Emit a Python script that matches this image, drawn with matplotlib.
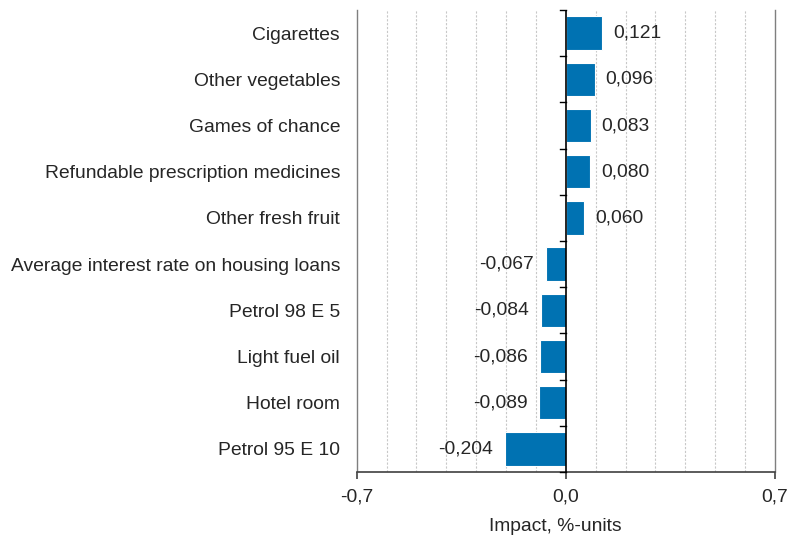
import matplotlib

matplotlib.use("Agg")
import matplotlib.pyplot as plt
import numpy as np

categories = [
    "Cigarettes",
    "Other vegetables",
    "Games of chance",
    "Refundable prescription medicines",
    "Other fresh fruit",
    "Average interest rate on housing loans",
    "Petrol 98 E 5",
    "Light fuel oil",
    "Hotel room",
    "Petrol 95 E 10",
]
impact = [0.121, 0.096, 0.083, 0.080, 0.060, -0.067, -0.084, -0.086, -0.089, -0.204]
xtick_values = [-0.7, 0.0, 0.7]
xtick_labels = ["-0,7", "0,0", "0,7"]

plt.rcParams["font.family"] = ["Liberation Sans", "DejaVu Sans"]
text_color = "#262626"
fs = 13.9

fig = plt.figure(figsize=(7.88, 5.39), dpi=100)
ax = fig.add_axes([0.4527, 0.1243, 0.5308, 0.8571])

y = np.arange(len(categories))
ax.barh(y, impact, height=0.72, color="#0072B2", edgecolor="white", linewidth=0.8, zorder=3)

ax.set_xlim(-0.7, 0.7)
ax.set_ylim(len(categories) - 0.5, -0.5)

# light dashed grid every 0.1
for gx in np.arange(-0.6, 0.61, 0.1):
    if abs(gx) < 1e-9:
        continue
    ax.axvline(gx, color="#c8c8c8", lw=0.8, ls=(0, (2, 1.5)), zorder=1)

# zero line with category ticks
ax.axvline(0, color="black", lw=1.2, zorder=4)
for b in np.arange(-0.5, len(categories), 1.0):
    ax.plot([-0.018, 0], [b, b], color="black", lw=1.0, zorder=4, clip_on=False)

ax.spines["top"].set_visible(False)
for side in ("left", "right"):
    ax.spines[side].set_color("#7f7f7f")
    ax.spines[side].set_linewidth(1.0)
ax.spines["bottom"].set_color("#404040")
ax.spines["bottom"].set_linewidth(1.2)

ax.set_yticks(y)
ax.set_yticklabels(categories, fontsize=fs, color=text_color)
ax.tick_params(axis="y", length=0, pad=12)
ax.set_xticks(xtick_values)
ax.set_xticklabels(xtick_labels, fontsize=fs, color=text_color)
ax.tick_params(axis="x", length=5, width=1.2, color="#404040", pad=7)
ax.set_xlabel("Impact, %-units", fontsize=fs, color=text_color)
ax.xaxis.set_label_coords(0.474, -0.100)

for yi, v in zip(y, impact):
    label = f"{v:.3f}".replace(".", ",")
    if v >= 0:
        ax.text(v + 0.037, yi, label, va="center", ha="left", fontsize=fs, color=text_color, zorder=5)
    else:
        ax.text(v - 0.04, yi, label, va="center", ha="right", fontsize=fs, color=text_color, zorder=5)

fig.savefig("out.png", dpi=100)
